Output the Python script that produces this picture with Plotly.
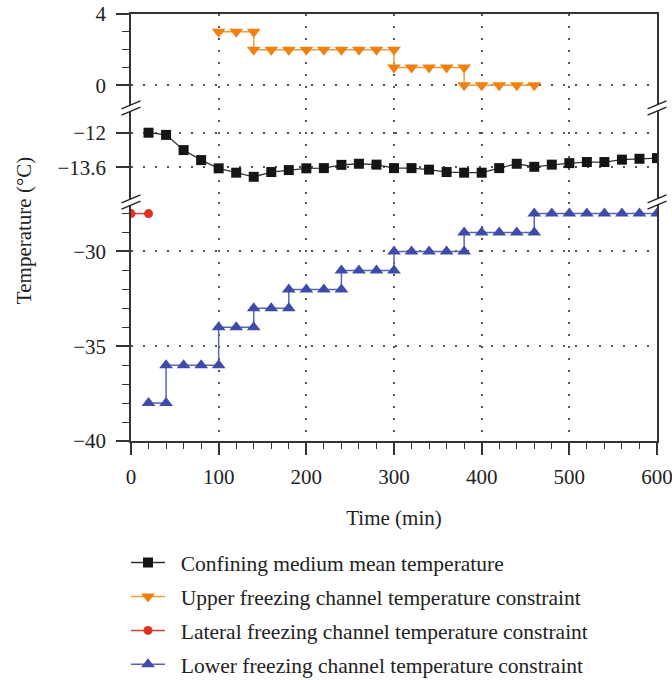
import plotly.graph_objects as go

# ---------------- data ----------------
time_conf = [20, 40, 60, 80, 100, 120, 140, 160, 180, 200, 220, 240, 260, 280, 300,
             320, 340, 360, 380, 400, 420, 440, 460, 480, 500, 520, 540, 560, 580, 600]
temp_conf = [-12.0, -12.1, -12.8, -13.26, -13.64, -13.84, -14.03, -13.81, -13.72, -13.64,
             -13.63, -13.48, -13.43, -13.47, -13.63, -13.63, -13.7, -13.81, -13.84, -13.84,
             -13.63, -13.43, -13.57, -13.47, -13.4, -13.35, -13.35, -13.24, -13.2, -13.17]

time_upper = [100, 120, 140, 140, 160, 180, 200, 220, 240, 260, 280, 300, 300,
              320, 340, 360, 380, 380, 400, 420, 440, 460]
temp_upper = [3, 3, 3, 2, 2, 2, 2, 2, 2, 2, 2, 2, 1,
              1, 1, 1, 1, 0, 0, 0, 0, 0]

time_lateral = [0, 20]
temp_lateral = [-28, -28]

time_lower = [20, 40, 40, 60, 80, 100, 100, 120, 140, 140, 160, 180, 180, 200, 220, 240, 240,
              260, 280, 300, 300, 320, 340, 360, 380, 380, 400, 420, 440, 460, 460,
              480, 500, 520, 540, 560, 580, 600]
temp_lower = [-38, -38, -36, -36, -36, -36, -34, -34, -34, -33, -33, -33, -32, -32, -32, -32, -31,
              -31, -31, -31, -30, -30, -30, -30, -30, -29, -29, -29, -29, -29, -28,
              -28, -28, -28, -28, -28, -28, -28]

series_names = ["Confining medium mean temperature",
                "Upper freezing channel temperature constraint",
                "Lateral freezing channel temperature constraint",
                "Lower freezing channel temperature constraint"]

x_ticks = [0, 100, 200, 300, 400, 500, 600]
top_ticks = [0, 4]
top_minor = [1, 2, 3]
mid_ticks = [-13.6, -12]
bot_ticks = [-40, -35, -30]
bot_minor = [-39, -38, -37, -36, -34, -33, -32, -31, -29, -28]

def fmt(v):
    s = ("%g" % v)
    return s.replace("-", "\u2212")

def lname(s):
    # en space gives the gap between legend symbol and text
    return "\u2002" + s

FONT = "Liberation Serif"
FS = 21
AX = "#333333"
GRID = "#555555"

fig = go.Figure()

fig.add_trace(go.Scatter(
    x=time_conf, y=temp_conf, xaxis="x2", yaxis="y2", mode="lines+markers",
    name=lname(series_names[0]), legendgroup="a",
    line=dict(color="#333333", width=1.3),
    marker=dict(symbol="square", size=10, color="#151515")))
fig.add_trace(go.Scatter(
    x=time_upper, y=temp_upper, xaxis="x3", yaxis="y3", mode="lines+markers",
    name=lname(series_names[1]), legendgroup="b",
    line=dict(color="#F39A3A", width=1.5),
    marker=dict(symbol="triangle-down", size=12, color="#F08010")))
fig.add_trace(go.Scatter(
    x=time_lateral, y=temp_lateral, xaxis="x", yaxis="y", mode="lines+markers",
    name=lname(series_names[2]), legendgroup="c",
    line=dict(color="#E03A2A", width=1.5),
    marker=dict(symbol="circle", size=9, color="#E0301E")))
fig.add_trace(go.Scatter(
    x=time_lower, y=temp_lower, xaxis="x", yaxis="y", mode="lines+markers",
    name=lname(series_names[3]), legendgroup="d",
    line=dict(color="#5866B8", width=1.5),
    marker=dict(symbol="triangle-up", size=12, color="#3F4BA8")))

D_BOT = [0, 0.5597]
D_MID = [0.5597, 0.7799]
D_TOP = [0.7799, 1.0]

grid_common = dict(showgrid=True, gridcolor=GRID, gridwidth=1.5, griddash="2px,10px",
                   zeroline=False, automargin=False)

fig.update_layout(
    width=672, height=680,
    margin=dict(l=131, r=15, t=14, b=239, autoexpand=False),
    paper_bgcolor="white", plot_bgcolor="white",
    font=dict(family=FONT, size=FS, color="#222222"),
    showlegend=True,
    legend=dict(orientation="v", x=-0.0095, xanchor="left", y=-0.2366, yanchor="top",
                font=dict(family=FONT, size=21.5, color="#222222"),
                tracegroupgap=3, itemwidth=34, bgcolor="rgba(0,0,0,0)"),
    xaxis=dict(anchor="y", range=[0, 600], tickvals=x_ticks,
               ticktext=[fmt(v) for v in x_ticks],
               ticks="outside", ticklen=12, tickwidth=1.5, tickcolor=AX,
               ticklabelstandoff=4, ticklabeloverflow="allow",
               minor=dict(dtick=20, tick0=0, ticks="outside", ticklen=6, tickwidth=1.2,
                          tickcolor=AX, showgrid=False),
               showline=True, linecolor=AX, linewidth=1.5,
               title=dict(text="Time (min)", standoff=22, font=dict(size=FS)),
               **grid_common),
    xaxis2=dict(anchor="y2", matches="x", range=[0, 600], tickvals=x_ticks,
                showticklabels=False, ticks="", showline=False, **grid_common),
    xaxis3=dict(anchor="y3", matches="x", range=[0, 600], tickvals=x_ticks, side="top",
                showticklabels=False, ticks="", showline=True, linecolor=AX, linewidth=1.5,
                **grid_common),
    yaxis=dict(domain=D_BOT, range=[-40, -27.39], tickvals=bot_ticks,
               ticktext=[fmt(v) for v in bot_ticks],
               ticks="outside", ticklen=13, tickwidth=1.5, tickcolor=AX, ticklabelstandoff=6,
               minor=dict(tickmode="array", tickvals=bot_minor, ticks="outside", ticklen=7,
                          tickwidth=1.2, tickcolor=AX, showgrid=False),
               showline=True, mirror=True, linecolor=AX, linewidth=1.5, **grid_common),
    yaxis2=dict(domain=D_MID, anchor="x2", range=[-15.19, -10.862], tickvals=mid_ticks,
                ticktext=[fmt(v) for v in mid_ticks],
                ticks="outside", ticklen=13, tickwidth=1.5, tickcolor=AX, ticklabelstandoff=6,
                showline=True, mirror=True, linecolor=AX, linewidth=1.5, **grid_common),
    yaxis3=dict(domain=D_TOP, anchor="x3", range=[-1.27, 4], tickvals=top_ticks,
                ticktext=[fmt(v) for v in top_ticks],
                ticks="outside", ticklen=13, tickwidth=1.5, tickcolor=AX, ticklabelstandoff=6,
                minor=dict(tickmode="array", tickvals=top_minor, ticks="outside", ticklen=7,
                           tickwidth=1.2, tickcolor=AX, showgrid=False),
                showline=True, mirror=True, linecolor=AX, linewidth=1.5, **grid_common),
)

# y-axis title
fig.add_annotation(text="Temperature (°C)", textangle=-90, xref="paper", yref="paper",
                   x=-0.203, y=0.492, xanchor="center", yanchor="middle", showarrow=False,
                   font=dict(family=FONT, size=FS, color="#222222"))

# axis break marks (two slashes on each vertical axis line at each break)
W, H = 526.0, 427.0
def brk(xp, yp):
    dx, dy, gap = 9.5 / W, 4.0 / H, 3.2 / H
    path = (f"M{xp-dx},{yp-dy-gap} L{xp+dx},{yp+dy-gap} "
            f"L{xp+dx},{yp+dy+gap} L{xp-dx},{yp-dy+gap} Z")
    fig.add_shape(type="path", path=path, xref="paper", yref="paper",
                  fillcolor="white", line=dict(width=0), layer="above")
    for s in (-gap, gap):
        fig.add_shape(type="line", xref="paper", yref="paper",
                      x0=xp - dx, y0=yp - dy + s, x1=xp + dx, y1=yp + dy + s,
                      line=dict(color="#222222", width=1.3), layer="above")

for xp in (0.0, 1.0):
    for yp in (D_BOT[1], D_MID[1]):
        brk(xp, yp)

fig.write_html("out.html")
